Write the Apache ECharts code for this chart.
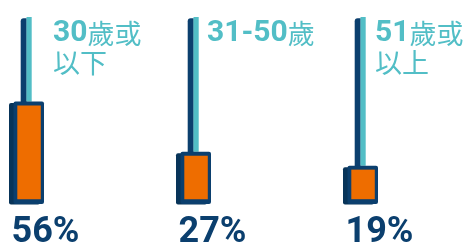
<!DOCTYPE html>
<html>
<head>
<meta charset="utf-8">
<script src="https://cdn.jsdelivr.net/npm/echarts@6/dist/echarts.min.js"></script>
<style>
  html, body { margin: 0; padding: 0; background: #fff; }
  #chart { width: 475px; height: 244px; }
</style>
</head>
<body>
<div id="chart"></div>
<script>
// 數據
const ageGroups = ['30歲或以下', '31-50歲', '51歲或以上'];
const ageNumbers = ['30', '31-50', '51'];
const ageLine1Rest = ['歲或', '歲', '歲或'];
const ageLine2 = ['以下', '', '以上'];
const shares = [56, 27, 19];

const NAVY = '#0b3f6e';
const NAVY_DARK = '#083459';
const TEAL = '#52bec6';
const ORANGE = '#ee6d00';

// 標題相對柱中心的水平位移
const titleDx = [26.5, 13.5, 14.5];

const chart = echarts.init(document.getElementById('chart'));

const renderItem = (params, api) => {
  const idx = api.value(0);
  const [cx, yTop] = api.coord([idx, api.value(1)]);
  const base = api.coord([idx, 0])[1];
  const top = params.coordSys.y - 8.5;

  const title = '{b|' + ageNumbers[idx] + '}{r|' + ageLine1Rest[idx] + '}' +
    (ageLine2[idx] ? '\n{r|' + ageLine2[idx] + '}' : '');

  return {
    type: 'group',
    children: [
      { type: 'rect', shape: { x: cx - 5.8, y: top + 1.3, width: 6, height: yTop - top, r: [3, 0, 0, 0] }, style: { fill: NAVY } },
      { type: 'rect', shape: { x: cx, y: top, width: 5.2, height: yTop - top }, style: { fill: TEAL } },
      { type: 'rect', shape: { x: cx - 17.5, y: yTop + 1.5, width: 31, height: base + 6 - yTop - 1.5, r: 2 }, style: { fill: NAVY_DARK } },
      { type: 'rect', shape: { x: cx - 13, y: yTop, width: 30.5, height: base + 5.5 - yTop, r: 2 }, style: { fill: NAVY } },
      { type: 'rect', shape: { x: cx - 9.2, y: yTop + 4, width: 23.5, height: base + 0.7 - yTop - 4 }, style: { fill: ORANGE } },
      {
        type: 'text',
        x: cx - 15, y: 215,
        style: {
          text: api.value(1) + '%',
          fill: NAVY,
          font: 'bold 36px Roboto',
          align: 'left',
          verticalAlign: 'top'
        }
      },
      {
        type: 'text',
        x: cx + titleDx[idx], y: 19,
        style: {
          text: title,
          align: 'left',
          verticalAlign: 'top',
          rich: {
            b: { fill: TEAL, fontFamily: 'Roboto', fontWeight: 'bold', fontSize: 30, lineHeight: 29 },
            r: { fill: TEAL, fontFamily: '"Noto Sans CJK TC"', fontSize: 27, lineHeight: 29 }
          }
        }
      }
    ]
  };
};

const option = {
  animation: false,
  grid: { left: 26.5, right: 114.5, top: 25.5, bottom: 45.5 },
  xAxis: { type: 'category', data: ageGroups, boundaryGap: false, show: false },
  yAxis: { type: 'value', min: 0, max: 100, show: false },
  series: [{
    type: 'custom',
    renderItem: renderItem,
    clip: false,
    data: shares.map((v, i) => [i, v])
  }]
};

chart.setOption(option);
</script>
</body>
</html>
